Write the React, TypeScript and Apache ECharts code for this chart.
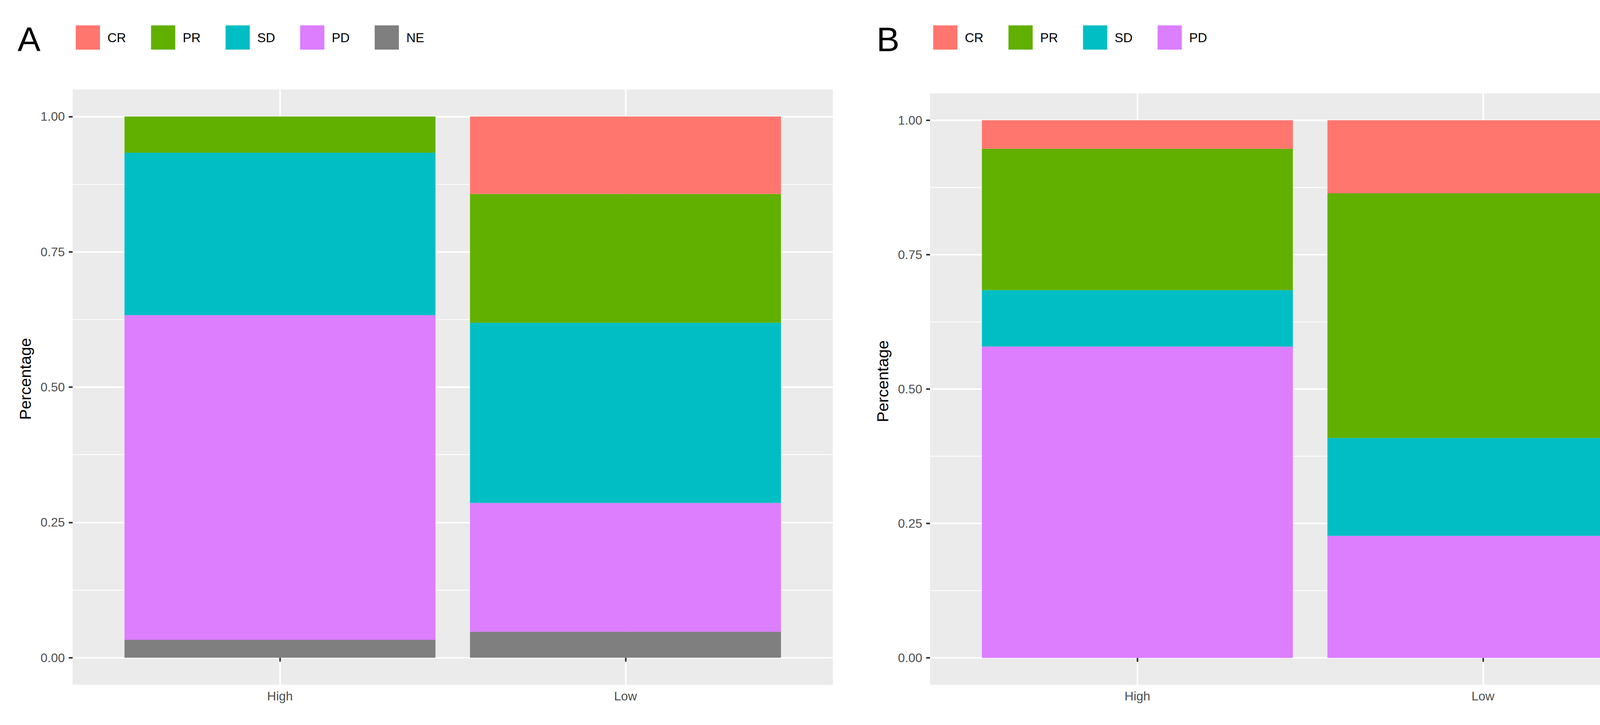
import React, { useEffect, useRef } from "react";
import * as echarts from "echarts";

const categories = ["High", "Low"];
const legendA = ["CR", "PR", "SD", "PD", "NE"];
const legendB = ["CR", "PR", "SD", "PD"];
const yTicks = [0, 0.25, 0.5, 0.75, 1];

// Panel A proportions [High, Low]
const aCR = [0, 0.143];
const aPR = [0.067, 0.238];
const aSD = [0.3, 0.333];
const aPD = [0.6, 0.238];
const aNE = [0.033, 0.048];

// Panel B proportions [High, Low]
const bCR = [0.053, 0.136];
const bPR = [0.263, 0.455];
const bSD = [0.105, 0.182];
const bPD = [0.579, 0.227];

const colors: Record<string, string> = {
  CR: "#FF766E",
  PR: "#61B000",
  SD: "#00BEC4",
  PD: "#DC7EFE",
  NE: "#7F7F7F",
};

const FONT = "Liberation Sans, Arial, Helvetica, sans-serif";

export default function App() {
  const ref = useRef<HTMLDivElement>(null);
  useEffect(() => {
    document.body.style.margin = "0";
    const chart = echarts.init(ref.current!, null, { renderer: "svg" });

    const panels = [
      { left: 186, top: 229, width: 1946, height: 1524, stack: "A",
        series: { NE: aNE, PD: aPD, SD: aSD, PR: aPR, CR: aCR } as Record<string, number[]> },
      { left: 2381, top: 239, width: 1946, height: 1514, stack: "B",
        series: { PD: bPD, SD: bSD, PR: bPR, CR: bCR } as Record<string, number[]> },
    ];

    const grid: any[] = [];
    const xAxis: any[] = [];
    const yAxis: any[] = [];
    const series: any[] = [];

    panels.forEach((p) => {
      const u = p.width / 2.2;
      const R = p.height / 1.1;
      const base = grid.length;
      // background
      grid.push({ left: p.left, top: p.top, width: p.width, height: p.height, show: true, backgroundColor: "#EBEBEB", borderWidth: 0 });
      xAxis.push({ gridIndex: base, type: "value", show: false });
      yAxis.push({ gridIndex: base, type: "value", show: false });
      // vertical gridlines at category centers
      grid.push({ left: p.left + 0.6 * u, top: p.top, width: u, height: p.height });
      xAxis.push({
        gridIndex: base + 1, type: "category", data: categories, boundaryGap: false,
        axisLine: { show: false }, axisTick: { show: false }, axisLabel: { show: false },
        splitLine: { show: true, interval: 0, lineStyle: { color: "#FFFFFF", width: 4 } },
      });
      yAxis.push({ gridIndex: base + 1, type: "value", show: false });
      // horizontal gridlines + y labels
      grid.push({ left: p.left, top: p.top + 0.05 * R, width: p.width, height: R });
      xAxis.push({ gridIndex: base + 2, type: "value", show: false });
      yAxis.push({
        gridIndex: base + 2, type: "value", min: yTicks[0], max: yTicks[yTicks.length - 1], interval: 0.25,
        axisLine: { show: false },
        axisTick: { show: true, length: 10, lineStyle: { color: "#333333", width: 4 } },
        axisLabel: { fontSize: 32, color: "#4D4D4D", margin: 20, fontFamily: FONT, formatter: (v: number) => v.toFixed(2) },
        splitLine: { show: true, lineStyle: { color: "#FFFFFF", width: 4 } },
        minorTick: { show: false, splitNumber: 2 },
        minorSplitLine: { show: true, lineStyle: { color: "#FFFFFF", width: 2 } },
      });
      // bars
      grid.push({ left: p.left + 0.1 * u, top: p.top, width: 2 * u, height: p.height });
      xAxis.push({
        gridIndex: base + 3, type: "category", data: categories, boundaryGap: true,
        axisLine: { show: false },
        axisTick: { show: true, alignWithLabel: true, length: 10, lineStyle: { color: "#333333", width: 4 } },
        axisLabel: { fontSize: 32, color: "#4D4D4D", margin: 13, fontFamily: FONT },
        splitLine: { show: false },
      });
      yAxis.push({ gridIndex: base + 3, type: "value", min: -0.05, max: 1.05, show: false });
      Object.keys(p.series).forEach((name) => {
        series.push({
          type: "bar", name, stack: p.stack, xAxisIndex: base + 3, yAxisIndex: base + 3,
          barWidth: "90%", data: p.series[name], itemStyle: { color: colors[name] },
        });
      });
    });

    const legendCommon = {
      top: 60, itemWidth: 62, itemHeight: 62, itemGap: 64, icon: "rect", selectedMode: false,
      itemStyle: { borderWidth: 0 },
      textStyle: { fontSize: 33, color: "#000000", fontFamily: FONT, padding: [0, 0, 0, 14] },
    };

    chart.setOption({
      animation: false,
      backgroundColor: "#FFFFFF",
      grid, xAxis, yAxis, series,
      legend: [
        { ...legendCommon, left: 189, data: legendA },
        { ...legendCommon, left: 2384, data: legendB },
      ],
      graphic: [
        { type: "text", x: 45, y: 100, style: { text: "A", fontSize: 88, fontFamily: FONT, fill: "#000", align: "left", verticalAlign: "middle" } },
        { type: "text", x: 2244, y: 100, style: { text: "B", fontSize: 88, fontFamily: FONT, fill: "#000", align: "left", verticalAlign: "middle" } },
        { type: "text", x: 65, y: 970, rotation: Math.PI / 2, style: { text: "Percentage", fontSize: 41, fontFamily: FONT, fill: "#000", align: "center", verticalAlign: "middle" } },
        { type: "text", x: 2260, y: 976, rotation: Math.PI / 2, style: { text: "Percentage", fontSize: 41, fontFamily: FONT, fill: "#000", align: "center", verticalAlign: "middle" } },
      ],
    });
    return () => chart.dispose();
  }, []);
  return <div ref={ref} style={{ position: "fixed", left: 0, top: 0, width: 4392, height: 1856 }} />;
}
